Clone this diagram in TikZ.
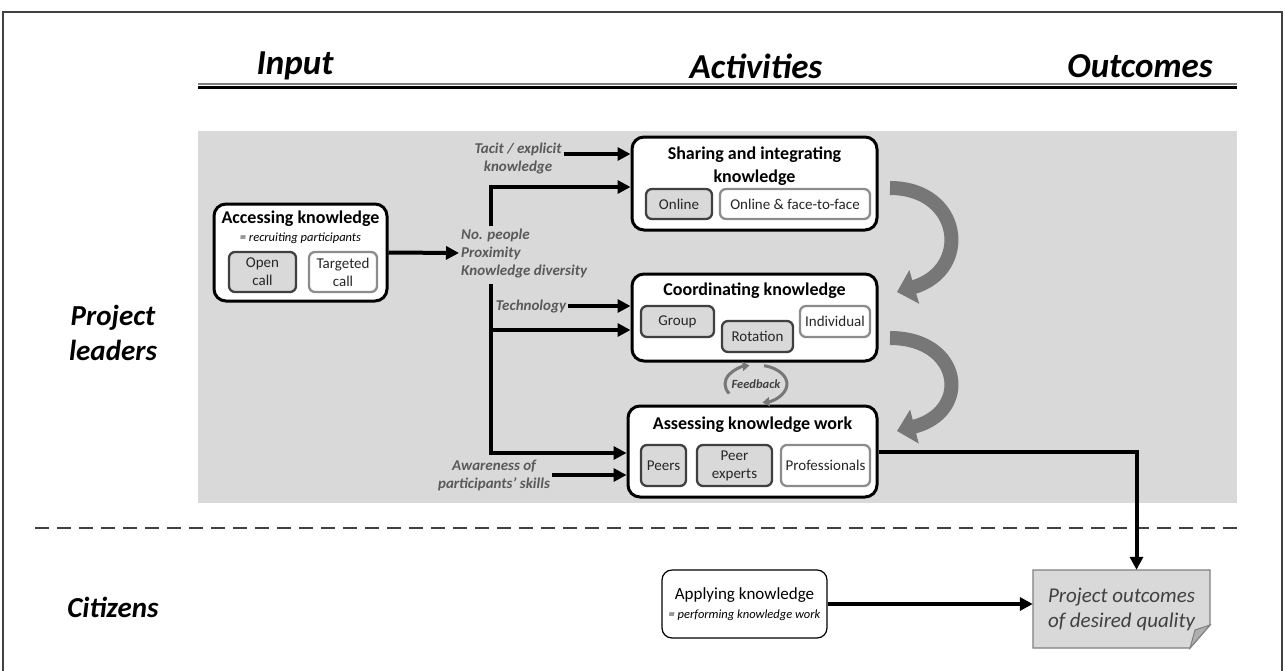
\documentclass[tikz,border=0pt]{standalone}
\usepackage{fontspec}
\setmainfont{Carlito}
\usetikzlibrary{arrows.meta,calc}

\definecolor{bandgray}{HTML}{D9D9D9}
\definecolor{labelgray}{HTML}{595959}
\definecolor{subdark}{HTML}{404040}
\definecolor{sublight}{HTML}{8C8C8C}
\definecolor{turngray}{HTML}{777777}
\definecolor{textdark}{HTML}{262626}

\tikzset{
  header/.style={font=\bfseries\itshape\fontsize{35}{40}\selectfont},
  rowlabel/.style={font=\bfseries\itshape\fontsize{29}{35}\selectfont, align=center},
  actbox/.style={shape=rectangle, rounded corners=12pt, draw=black, line width=3pt, fill=white},
  boxtitle/.style={font=\bfseries\fontsize{18}{23}\selectfont, align=center},
  boxsub/.style={font=\itshape\fontsize{12.5}{14}\selectfont},
  darksub/.style={shape=rectangle, rounded corners=6pt, draw=subdark, line width=2.3pt, fill=bandgray,
    font=\fontsize{15}{18}\selectfont, text=textdark, align=center, inner sep=1pt},
  lightsub/.style={darksub, draw=sublight, fill=white},
  factor/.style={font=\bfseries\itshape\fontsize{15}{18}\selectfont, text=labelgray, inner sep=2pt},
  flow/.style={line width=4pt, -{Triangle[length=13pt,width=13pt]}},
  bigturn/.style={line width=14pt, draw=turngray, -{Triangle[length=18pt,width=34pt]}},
  fbarrow/.style={line width=3pt, draw=turngray, -{Triangle[length=7pt,width=9pt]}},
}

\begin{document}
\begin{tikzpicture}[x=1pt,y=-1pt]
%%%%%%%%%%%%%%%%%%%%%%%%%%%%%%%%%%%%%%%%%%% HELP LINES
%\draw[help lines] (0,0) grid +(1285,670);
\useasboundingbox (0,0) rectangle (1285,670);
\draw[line width=1.2pt, draw=subdark] (3,690) -- (3,12) -- (1282,12) -- (1282,690);

%%%%%%%%%%%%%%%%%%%%%%%%%%%%%%%%%%%%%%%%%%% headers
\node[header](input) at (295,66){Input};
\node[header](activities) at (756,66){Activities};
\node[header](outcomes) at (1140,66){Outcomes};
\draw[line width=2pt, draw=gray] (198,84) -- (1237,84);
\draw[line width=2.5pt] (198,87.5) -- (1237,87.5);

%%%%% rows
\fill[bandgray] (198,131) rectangle (1237,503);
\draw[line width=2pt, draw=subdark, dash pattern=on 14pt off 8pt] (35,528) -- (1237,528);
\node[rowlabel](leaders) at (113,333){Project\\leaders};
\node[rowlabel](citizens) at (113,607){Citizens};

%%%%%%%%%%%%%%%%%%%%%%%%%%%%%%%%%%%%%%%%%%% elements
\node[actbox, minimum width=173pt, minimum height=97pt](access) at (300.5,252.5){};
\node[boxtitle](accesstitle) at (300.5,219){Accessing knowledge};
\node[boxsub](accesssub) at (300.5,238){= recruiting participants};
\node[darksub, minimum width=67pt, minimum height=40pt](opencall) at (262.5,272){Open\\call};
\node[lightsub, minimum width=68pt, minimum height=40pt](targeted) at (343,272){Targeted\\call};

\node[actbox, minimum width=245pt, minimum height=93pt](share) at (754.5,183.5){};
\node[boxtitle](sharetitle) at (754.5,166){Sharing and integrating\\knowledge};
\node[darksub, minimum width=66pt, minimum height=30pt](online) at (679,204){Online};
\node[lightsub, minimum width=150pt, minimum height=30pt](hybrid) at (795,204){Online \& face-to-face};

\node[actbox, minimum width=245pt, minimum height=87pt](coord) at (754.5,317.5){};
\node[boxtitle](coordtitle) at (754.5,291){Coordinating knowledge};
\node[darksub, minimum width=73pt, minimum height=31pt](group) at (677.5,321.5){Group};
\node[darksub, minimum width=71pt, minimum height=31pt](rotation) at (757.5,336.5){Rotation};
\node[lightsub, minimum width=70pt, minimum height=31pt](individual) at (835,321.5){Individual};

\node[actbox, minimum width=249pt, minimum height=91pt](assess) at (752.5,451.5){};
\node[boxtitle](assesstitle) at (752.5,425){Assessing knowledge work};
\node[darksub, minimum width=45pt, minimum height=41pt](peers) at (663.5,465.5){Peers};
\node[darksub, minimum width=75pt, minimum height=41pt](peerexp) at (734.5,465.5){Peer\\experts};
\node[lightsub, minimum width=89pt, minimum height=41pt](profs) at (825.5,465.5){Professionals};

\node[shape=rectangle, rounded corners=10pt, draw=black, line width=1.2pt, fill=white,
  minimum width=165pt, minimum height=68pt, align=center, font=\fontsize{17}{19}\selectfont](apply)
  at (744.5,604){Applying knowledge\\{\itshape\fontsize{12.5}{14}\selectfont = performing knowledge work}};

%%%%% outcome sheet
\draw[line width=1.2pt, draw=gray, fill=bandgray] (1033,570) -- (1210,570) -- (1210,625) -- (1190,648) -- (1033,648) -- cycle;
\draw[line width=1pt, draw=gray, fill=sublight!70] (1210,625) -- (1195,630) -- (1190,648) -- cycle;
\node[minimum width=177pt, minimum height=78pt, align=center, text=subdark,
  font=\itshape\fontsize{21}{25}\selectfont](outcome) at (1121.5,609){Project outcomes\\of desired quality};

%%%%% factors and arrows
\node[factor, anchor=west, align=left](factors) at (459,253){No. people\\Proximity\\Knowledge diversity};
\node[factor, align=center](tacit) at (518,158){Tacit / explicit\\knowledge};
\node[factor](tech) at (531,306){Technology};
\node[factor, align=center](aware) at (494,475){Awareness of\\participants’ skills};

\coordinate (splitup) at (491,226);
\coordinate (splitdown) at (491,284);
\coordinate (coordin) at ($(coord.west)+(0,12.5)$);

\draw[flow] (access.east) -- (factors.west);
\draw[flow] ([yshift=4pt]tacit.east) -- ([yshift=4pt]tacit.east -| share.west);
\draw[flow] (splitup) |- ($(share.west)+(0,3.5)$);
\draw[flow] (tech.east) -- (tech.east -| coord.west);
\draw[flow] (splitdown |- coordin) -- (coordin);
\draw[flow] (splitdown) |- ($(assess.west)+(0,1.5)$);
\draw[flow] (aware.east) -- (aware.east -| assess.west);
\draw[flow] (assess.east) -| ([xshift=15pt]outcome.north);
\draw[flow] (apply.east) -- (apply.east -| outcome.west);

%%%%% turning arrows
\draw[bigturn] (890,188) .. controls (962,188) and (972,270) .. (897,292);
\draw[bigturn] (890,338) .. controls (962,338) and (972,412) .. (897,431);

%%%%% feedback
\node[font=\bfseries\itshape\fontsize{12.5}{14}\selectfont, text=subdark](feedback) at (756,384){Feedback};
\draw[fbarrow] (feedback.center) ++(150:31 and 19) arc[start angle=150, end angle=258, x radius=31, y radius=19];
\draw[fbarrow] (feedback.center) ++(-75:31 and 19) arc[start angle=-75, end angle=78, x radius=31, y radius=19];
\end{tikzpicture}
\end{document}
